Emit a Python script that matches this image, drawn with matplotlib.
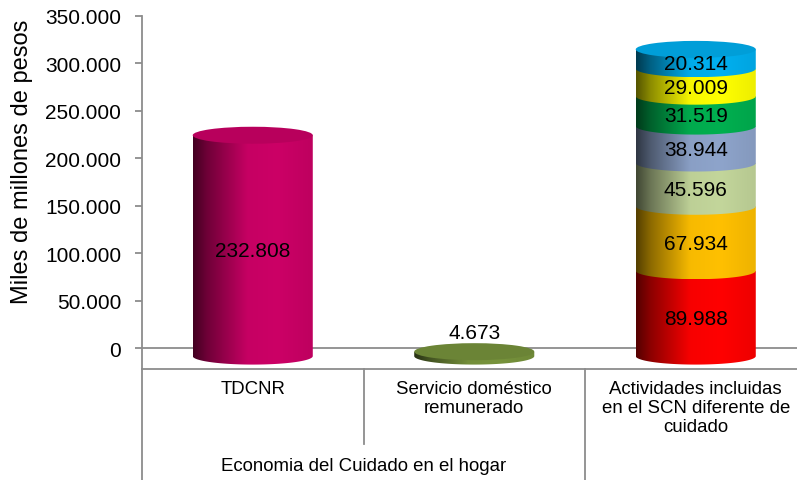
import numpy as np
import matplotlib
matplotlib.use("Agg")
import matplotlib.pyplot as plt
from matplotlib.path import Path
from matplotlib.patches import PathPatch, Ellipse
from matplotlib.colors import to_rgb

plt.rcParams['font.family'] = ['Liberation Sans', 'DejaVu Sans']

# datos
categories = ["TDCNR", "Servicio doméstico\nremunerado",
              "Actividades incluidas\nen el SCN diferente de\ncuidado"]
group_label = "Economia del Cuidado en el hogar"
tdcnr = [232808]
servicio = [4673]
scn_parts = [89988, 67934, 45596, 38944, 31519, 29009, 20314]
scn_colors = ['#FF0000', '#FFC000', '#C3D69B', '#8EA4CB', '#00B050', '#FFFF00', '#00B0F0']
yticks = [0, 50000, 100000, 150000, 200000, 250000, 300000, 350000]

GRAY = '#8c8c8c'
BAR_W = 0.542      # ancho de la barra en unidades de categoria
ELL_H = 17900      # alto de la elipse (unidades de y)
BASE = -8500       # desplazamiento 3D de la base


def fmt(v):
    return f"{v:,}".replace(",", ".")


def shade(color, n=200):
    c = np.array(to_rgb(color))
    t = np.linspace(0, 1, n)
    f = np.interp(t, [0, 0.12, 0.45, 0.7, 1], [0.33, 0.55, 0.97, 1.0, 0.93])
    rgb = np.clip(c[None, :] * f[:, None], 0, 1)
    return rgb[None, :, :]


def cylinder(ax, xc, y0, y1, color, cap=True):
    x0, x1 = xc - BAR_W / 2, xc + BAR_W / 2
    th = np.linspace(np.pi, 2 * np.pi, 60)
    pts = [(x0, y1), (x0, y0)]
    pts += list(zip(xc + BAR_W / 2 * np.cos(th), y0 + ELL_H / 2 * np.sin(th)))
    pts += [(x1, y1), (x0, y1)]
    path = Path(pts)
    patch = PathPatch(path, facecolor='none', edgecolor='none')
    ax.add_patch(patch)
    im = ax.imshow(shade(color), extent=(x0, x1, y0 - ELL_H / 2, y1),
                   aspect='auto', origin='lower', zorder=2)
    im.set_clip_path(patch)
    if cap:
        capc = np.array(to_rgb(color)) * 0.9
        ax.add_patch(Ellipse((xc, y1), BAR_W, ELL_H, facecolor=capc,
                             edgecolor='none', zorder=3))


fig = plt.figure(figsize=(7.97, 4.81), dpi=100)
ax = fig.add_axes([142 / 797, 111 / 481, 655 / 797, 353 / 481])

# TDCNR
cylinder(ax, 0, BASE, BASE + tdcnr[0], '#CC0066')
ax.text(0, BASE + tdcnr[0] / 2 - 5000, fmt(tdcnr[0]), ha='center', va='center',
        fontsize=15, zorder=5)

# Servicio domestico
cylinder(ax, 1, BASE, BASE + servicio[0], '#77933C')
ax.text(1, BASE + servicio[0] + 20700, fmt(servicio[0]), ha='center', va='center',
        fontsize=15, zorder=5)

# Actividades SCN (apilado)
bottom = BASE
for i, (v, c) in enumerate(zip(scn_parts, scn_colors)):
    cylinder(ax, 2, bottom, bottom + v, c, cap=(i == len(scn_parts) - 1))
    ax.text(2, bottom + v / 2 - 5000, fmt(v), ha='center', va='center',
            fontsize=15, zorder=5)
    bottom += v

ax.axhline(0, color=GRAY, lw=1.3, zorder=1)

ax.set_xlim(-0.5, -0.5 + 655 / 221.5)
ax.set_ylim(-22100, 350000)
ax.set_yticks(yticks)
ax.set_yticklabels([fmt(v) for v in yticks], fontsize=15)
ax.set_xticks([])
ax.tick_params(axis='y', direction='out', length=5, color=GRAY, width=1.3, pad=10)
for s in ['top', 'right']:
    ax.spines[s].set_visible(False)
ax.spines['left'].set_color(GRAY)
ax.spines['bottom'].set_color(GRAY)
ax.spines['left'].set_linewidth(1.3)
ax.spines['bottom'].set_linewidth(1.3)

# separadores de categorias
tr = ax.get_xaxis_transform()
ax.plot([-0.5, -0.5], [0, -111 / 353], color=GRAY, lw=1.3, transform=tr, clip_on=False)
ax.plot([0.5, 0.5], [0, -75 / 353], color=GRAY, lw=1.3, transform=tr, clip_on=False)
ax.plot([1.5, 1.5], [0, -111 / 353], color=GRAY, lw=1.3, transform=tr, clip_on=False)

for i, lab in enumerate(categories):
    ax.text(i, -11 / 353, lab, ha='center', va='top', fontsize=13.4,
            linespacing=1.15, transform=tr)
ax.text(0.5, -97 / 353, group_label, ha='center', va='center', fontsize=13.4,
        transform=tr)

fig.text(22 / 797, 1 - 162 / 481, "Miles de millones de pesos", rotation=90,
         ha='center', va='center', fontsize=17)

fig.savefig("out.png", dpi=100)
